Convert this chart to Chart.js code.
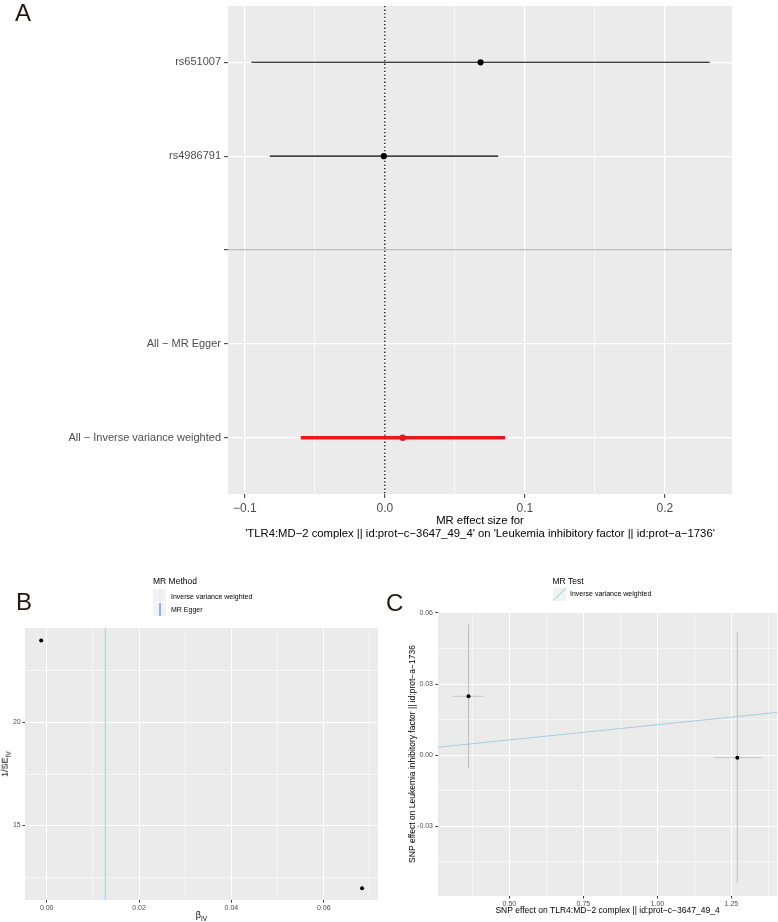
<!DOCTYPE html>
<html>
<head>
<meta charset="utf-8">
<script src="https://cdn.jsdelivr.net/npm/chart.js@4.4.1/dist/chart.umd.min.js"></script>
<style>
  body { margin: 0; background: #fff; font-family: "Liberation Sans", Arial, Helvetica, sans-serif; }
  #wrap { position: relative; width: 778px; height: 922px; overflow: hidden; }
  canvas { position: absolute; }
  .panel { position: absolute; color: #231815; font-size: 24px; line-height: 1; }
  .txt { position: absolute; white-space: nowrap; color: #000; line-height: 1; }
  .key { position: absolute; width: 13px; height: 13px; background: #f2f2f2; overflow: hidden; }
</style>
</head>
<body>
<div id="wrap">
  <canvas id="chartA" width="778" height="540" style="left:0;top:0"></canvas>
  <canvas id="chartB" width="390" height="362" style="left:0;top:560px"></canvas>
  <canvas id="chartC" width="398" height="362" style="left:380px;top:560px"></canvas>

  <div class="panel" style="left:15px;top:1px">A</div>
  <div class="panel" style="left:16px;top:590px">B</div>
  <div class="panel" style="left:386px;top:591px">C</div>

  <!-- legend B -->
  <div class="txt" style="left:153px;top:577px;font-size:8.5px">MR Method</div>
  <div class="key" style="left:153px;top:589px"><div style="position:absolute;left:6px;top:0;width:1.5px;height:13px;background:#e4edf3"></div></div>
  <div class="txt" style="left:171px;top:592.5px;font-size:7px">Inverse variance weighted</div>
  <div class="key" style="left:153px;top:602.5px"><div style="position:absolute;left:6px;top:0;width:1.5px;height:13px;background:#86b3d6"></div></div>
  <div class="txt" style="left:171px;top:606px;font-size:7px">MR Egger</div>
  <div class="txt" style="left:201.5px;top:916px;font-size:9px;transform:translate(-50%,-50%);line-height:1.2">β<sub style="font-size:6.5px">IV</sub></div>
  <div class="txt" style="left:6px;top:764px;font-size:9px;transform:translate(-50%,-50%) rotate(-90deg);line-height:1.2">1/SE<sub style="font-size:6.5px">IV</sub></div>

  <!-- legend C -->
  <div class="txt" style="left:552.5px;top:576.5px;font-size:8.5px">MR Test</div>
  <div class="key" style="left:553px;top:588px"><div style="position:absolute;left:-2px;top:6px;width:17px;height:1px;background:#a6cee3;transform:rotate(-45deg)"></div></div>
  <div class="txt" style="left:570px;top:590px;font-size:7px">Inverse variance weighted</div>
</div>

<script>
// Panel A: single SNP and summary estimates
const rowLabels = ["rs651007", "rs4986791", "", "All − MR Egger", "All − Inverse variance weighted"];
const rowBeta  = [0.0684, -0.0007, null, null, 0.0128];
const rowLower = [-0.0952, -0.0821, null, null, -0.0600];
const rowUpper = [0.2321, 0.0810, null, null, 0.0860];
const xTicksA = [[-0.1, "−0.1"], [0, "0.0"], [0.1, "0.1"], [0.2, "0.2"]];
const xGridA = [-0.1, -0.05, 0, 0.05, 0.1, 0.15, 0.2];

// Panel B: funnel plot
const funnelBeta = [-0.0012, 0.0683];
const funnelInvSE = [23.97, 11.96];
const ivwEstimate = 0.0127;
const xTicksB = [[0, "0.00"], [0.02, "0.02"], [0.04, "0.04"], [0.06, "0.06"]];
const xGridB = [0, 0.01, 0.02, 0.03, 0.04, 0.05, 0.06, 0.07];
const yTicksB = [[15, "15"], [20, "20"]];
const yGridB = [12.5, 15, 17.5, 20, 22.5];

// Panel C: scatter plot
const exposureBeta = [0.362, 1.270];
const exposureSE = [0.0525, 0.081];
const outcomeBeta = [0.0248, -0.0011];
const outcomeSE = [0.0304, 0.0530];
const ivwLineX = [0.259, 1.405];
const ivwLineY = [0.0033, 0.0180];
const xTicksC = [[0.5, "0.50"], [0.75, "0.75"], [1.0, "1.00"], [1.25, "1.25"]];
const xGridC = [0.375, 0.5, 0.625, 0.75, 0.875, 1.0, 1.125, 1.25, 1.375];
const yTicksC = [[-0.03, "-0.03"], [0, "0.00"], [0.03, "0.03"], [0.06, "0.06"]];
const yGridC = [-0.045, -0.03, -0.015, 0, 0.015, 0.03, 0.045, 0.06];

Chart.defaults.font.family = '"Liberation Sans", Arial, Helvetica, sans-serif';
Chart.defaults.animation = false;

const panelBg = {
    id: "panelBg",
    beforeDraw(chart) {
        const { ctx, chartArea: a } = chart;
        ctx.save();
        ctx.fillStyle = "#ebebeb";
        ctx.fillRect(a.left, a.top, a.right - a.left, a.bottom - a.top);
        ctx.restore();
    }
};

function makeScale(axis, cfg) {
    const find = v => cfg.labels.find(l => Math.abs(l[0] - v) < 1e-9);
    return {
        type: "linear",
        min: cfg.min,
        max: cfg.max,
        reverse: !!cfg.reverse,
        afterBuildTicks: s => { s.ticks = cfg.grid.map(v => ({ value: v })); },
        afterFit: s => {
            if (axis === "x") s.height = cfg.size; else s.width = cfg.size;
            // no extra room for overhanging labels, the panel sizes are fixed
            s.paddingTop = 0; s.paddingBottom = 0; s.paddingLeft = 0; s.paddingRight = 0;
        },
        border: { display: false },
        grid: {
            color: c => (c.tick && cfg.gridColor) ? cfg.gridColor(c.tick.value) : "#ffffff",
            lineWidth: c => (c.tick && find(c.tick.value)) ? cfg.majorW : cfg.minorW,
            tickColor: c => (c.tick && find(c.tick.value)) ? "#333333" : "rgba(0,0,0,0)",
            tickLength: cfg.tickLen,
            tickWidth: cfg.tickW || 1
        },
        ticks: {
            autoSkip: false,
            maxRotation: 0,
            minRotation: 0,
            padding: cfg.pad,
            color: "#4d4d4d",
            font: { size: cfg.font },
            callback: v => { const l = find(v); return l ? l[1] : ""; }
        },
        title: cfg.title || { display: false }
    };
}

const baseOpts = {
    responsive: false,
    maintainAspectRatio: false,
    animation: false,
    layout: { autoPadding: false },
    plugins: { legend: { display: false }, tooltip: { enabled: false } },
    elements: { line: { tension: 0 } }
};

// ---------- A ----------
const dsA = [];
rowLabels.forEach((lab, i) => {
    if (rowBeta[i] === null) return;
    const ivw = lab.indexOf("Inverse") >= 0;
    const col = ivw ? "#e41a1c" : "#000000";
    dsA.push({
        data: [{ x: rowLower[i], y: i + 1 }, { x: rowUpper[i], y: i + 1 }],
        showLine: true, borderColor: col, borderWidth: ivw ? 3.6 : 1.1,
        pointRadius: 0, order: 2
    });
    dsA.push({
        data: [{ x: rowBeta[i], y: i + 1 }],
        backgroundColor: col, borderColor: col, pointRadius: ivw ? 3.3 : 3.1,
        borderWidth: 0, order: 1
    });
});
dsA.push({
    data: [{ x: 0, y: 0.4 }, { x: 0, y: 5.6 }],
    showLine: true, borderColor: "#000", borderWidth: 1.3, borderDash: [1.3, 2.3],
    pointRadius: 0, order: 3
});

new Chart(document.getElementById("chartA"), {
    type: "scatter",
    data: { datasets: dsA },
    options: Object.assign({}, baseOpts, {
        layout: { autoPadding: false, padding: { left: 0, top: 6, right: 46, bottom: 0 } },
        scales: {
            x: makeScale("x", {
                min: -0.112, max: 0.248, grid: xGridA, labels: xTicksA, size: 46,
                majorW: 1.3, minorW: 0.65, tickLen: 4, pad: 3, font: 12,
                title: {
                    display: true, color: "#000", padding: { top: 0, bottom: 0 },
                    font: { size: 11.3, lineHeight: 1.15 },
                    text: ["MR effect size for",
                        "'TLR4:MD−2 complex || id:prot−c−3647_49_4' on 'Leukemia inhibitory factor || id:prot−a−1736'"]
                }
            }),
            y: makeScale("y", {
                min: 0.4, max: 5.6, reverse: true, grid: [1, 2, 3, 4, 5],
                labels: rowLabels.map((l, i) => [i + 1, l]), size: 228,
                majorW: 1.3, minorW: 1.3, tickLen: 4, pad: 3, font: 11,
                gridColor: v => v === 3 ? "#bdbdbd" : "#ffffff"
            })
        }
    }),
    plugins: [panelBg]
});

// ---------- B ----------
new Chart(document.getElementById("chartB"), {
    type: "scatter",
    data: {
        datasets: [
            {
                data: funnelBeta.map((b, i) => ({ x: b, y: funnelInvSE[i] })),
                backgroundColor: "#000", borderWidth: 0, pointRadius: 2, order: 1
            },
            {
                data: [{ x: ivwEstimate, y: 11.39 }, { x: ivwEstimate, y: 24.58 }],
                showLine: true, borderColor: "#a6cee3", borderWidth: 1, pointRadius: 0, order: 2
            }
        ]
    },
    options: Object.assign({}, baseOpts, {
        layout: { autoPadding: false, padding: { left: 0, top: 68, right: 12, bottom: 0 } },
        scales: {
            x: makeScale("x", {
                min: -0.0047, max: 0.07175, grid: xGridB, labels: xTicksB, size: 22,
                majorW: 1, minorW: 0.5, tickLen: 2.5, pad: 1, font: 7
            }),
            y: makeScale("y", {
                min: 11.39, max: 24.58, grid: yGridB, labels: yTicksB, size: 25,
                majorW: 1, minorW: 0.5, tickLen: 2.5, pad: 1.8, font: 7
            })
        }
    }),
    plugins: [panelBg]
});

// ---------- C ----------
const dsC = [];
exposureBeta.forEach((bx, i) => {
    const by = outcomeBeta[i];
    dsC.push({
        data: [{ x: bx, y: by - outcomeSE[i] }, { x: bx, y: by + outcomeSE[i] }],
        showLine: true, borderColor: "#bebebe", borderWidth: 1, pointRadius: 0, order: 3
    });
    dsC.push({
        data: [{ x: bx - exposureSE[i], y: by }, { x: bx + exposureSE[i], y: by }],
        showLine: true, borderColor: "#c8c8c8", borderWidth: 1, pointRadius: 0, order: 3
    });
});
dsC.push({
    data: exposureBeta.map((bx, i) => ({ x: bx, y: outcomeBeta[i] })),
    backgroundColor: "#000", borderWidth: 0, pointRadius: 2, order: 1
});
dsC.push({
    data: ivwLineX.map((x, i) => ({ x: x, y: ivwLineY[i] })),
    showLine: true, borderColor: "#a6cee3", borderWidth: 1, pointRadius: 0, order: 2
});

new Chart(document.getElementById("chartC"), {
    type: "scatter",
    data: { datasets: dsC },
    options: Object.assign({}, baseOpts, {
        layout: { autoPadding: false, padding: { left: 0, top: 52, right: 1, bottom: 0 } },
        scales: {
            x: makeScale("x", {
                min: 0.259, max: 1.404, grid: xGridC, labels: xTicksC, size: 26,
                majorW: 1, minorW: 0.5, tickLen: 2.5, pad: 1, font: 7,
                title: {
                    display: true, color: "#000", font: { size: 8.5, lineHeight: 1.2 },
                    padding: { top: 0, bottom: 6 },
                    text: "SNP effect on TLR4:MD−2 complex || id:prot−c−3647_49_4"
                }
            }),
            y: makeScale("y", {
                min: -0.0595, max: 0.0604, grid: yGridC, labels: yTicksC, size: 58,
                majorW: 1, minorW: 0.5, tickLen: 2.5, pad: 2.5, font: 7,
                title: {
                    display: true, color: "#000", font: { size: 8.5, lineHeight: 1.2 },
                    padding: { top: 28, bottom: 0 },
                    text: "SNP effect on Leukemia inhibitory factor || id:prot−a−1736"
                }
            })
        }
    }),
    plugins: [panelBg]
});
</script>
</body>
</html>
